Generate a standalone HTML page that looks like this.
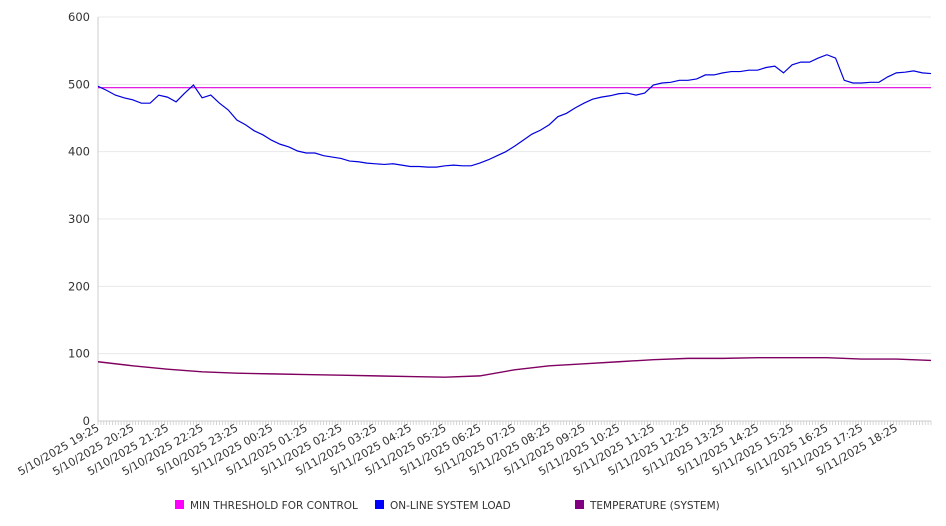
<!DOCTYPE html>
<html><head><meta charset="utf-8">
<style>
html,body{margin:0;padding:0;background:#fff;}
svg{display:block;font-family:"DejaVu Sans","Liberation Sans",sans-serif;}
</style></head>
<body>
<svg id="chart" width="946" height="526" viewBox="0 0 946 526">
  <g id="grid"></g>
  <g id="yaxis"></g>
  <g id="xaxis"></g>
  <g id="series"></g>
  <g id="legend"></g>
</svg>
<script>
const yTicks = [0,100,200,300,400,500,600];
const xLabels = ["5/10/2025 19:25","5/10/2025 20:25","5/10/2025 21:25","5/10/2025 22:25","5/10/2025 23:25","5/11/2025 00:25","5/11/2025 01:25","5/11/2025 02:25","5/11/2025 03:25","5/11/2025 04:25","5/11/2025 05:25","5/11/2025 06:25","5/11/2025 07:25","5/11/2025 08:25","5/11/2025 09:25","5/11/2025 10:25","5/11/2025 11:25","5/11/2025 12:25","5/11/2025 13:25","5/11/2025 14:25","5/11/2025 15:25","5/11/2025 16:25","5/11/2025 17:25","5/11/2025 18:25"];
const threshold = 495;
// online system load, every 15 minutes from 19:25
const loadValues = [497,491,484,480,477,472,472,484,481,474,487,499,480,484,472,462,447,440,431,425,417,411,407,401,398,398,394,392,390,386,385,383,382,381,382,380,378,378,377,377,379,380,379,379,383,388,394,400,408,417,426,432,440,452,457,465,472,478,481,483,486,487,484,487,499,502,503,506,506,508,514,514,517,519,519,521,521,525,527,517,529,533,533,539,544,539,506,502,502,503,503,511,517,518,520,517,516];
// temperature, hourly from 19:25
const tempValues = [88,82,77,73,71,70,69,68,67,66,65,67,76,82,85,88,91,93,93,94,94,94,92,92,90];

const NS="http://www.w3.org/2000/svg";
const X0=98, X1=931, Y0=421, Y1=17, HOURS=24;
const xh = h => X0 + (X1-X0)*h/HOURS;
const yv = v => Y0 - (Y0-Y1)*v/600;
function mk(tag, attrs, parent){const e=document.createElementNS(NS,tag);for(const k in attrs)e.setAttribute(k,attrs[k]);parent.appendChild(e);return e;}
const grid=document.getElementById('grid'), yaxis=document.getElementById('yaxis'), xaxis=document.getElementById('xaxis'), series=document.getElementById('series'), legend=document.getElementById('legend');

yTicks.forEach(t=>{
  if(t>0){const g=mk('line',{x1:X0,x2:X1,y1:yv(t),y2:yv(t),stroke:'#e8e8e8','stroke-width':1},grid);
  
  }
  const tx=mk('text',{x:90,y:yv(t)+4,'text-anchor':'end','font-size':11.5,fill:'#333'},yaxis);
  tx.textContent=t;
  
  
});
const ya=mk('line',{x1:X0,x2:X0,y1:Y1,y2:Y0,stroke:'#ccc','stroke-width':1},yaxis);


const xa=mk('line',{x1:X0,x2:X1,y1:Y0,y2:Y0,stroke:'#ccc','stroke-width':1},xaxis);


for(let i=0;i<=HOURS*12;i++){
  const x=xh(i/12);
  const tk=mk('line',{x1:x,x2:x,y1:Y0,y2:Y0+4,stroke:'#ccc','stroke-width':0.8},xaxis);
  
  
}
xLabels.forEach((l,i)=>{
  const x=xh(i)+2, y=Y0+9;
  const tx=mk('text',{x:x,y:y,'text-anchor':'end','font-size':11,fill:'#333',transform:`rotate(-30 ${x} ${y})`},xaxis);
  tx.textContent=l;
  
  
});

const th=mk('line',{x1:X0,x2:X1,y1:yv(threshold),y2:yv(threshold),stroke:'#dd00dd','stroke-width':1.2},series);



const tp=mk('polyline',{points:tempValues.map((v,i)=>xh(i*HOURS/(tempValues.length-1))+','+yv(v)).join(' '),fill:'none',stroke:'#800060','stroke-width':1.4},series);



const lp=mk('polyline',{points:loadValues.map((v,i)=>xh(i*HOURS/(loadValues.length-1))+','+yv(v)).join(' '),fill:'none',stroke:'#0000dd','stroke-width':1.2},series);



const items=[["MIN THRESHOLD FOR CONTROL","#ff00ff",175,'legend-min-threshold'],["ON-LINE SYSTEM LOAD","#0000ff",375,'legend-system-load'],["TEMPERATURE (SYSTEM)","#800080",575,'legend-temperature']];
items.forEach(it=>{
  const g=mk('g',{},legend);
  
  
  mk('rect',{x:it[2],y:500,width:9,height:9,fill:it[1]},g);
  const t=mk('text',{x:it[2]+15,y:509,'font-size':10.5,fill:'#333'},g);
  t.textContent=it[0];
});
</script>
</body></html>
